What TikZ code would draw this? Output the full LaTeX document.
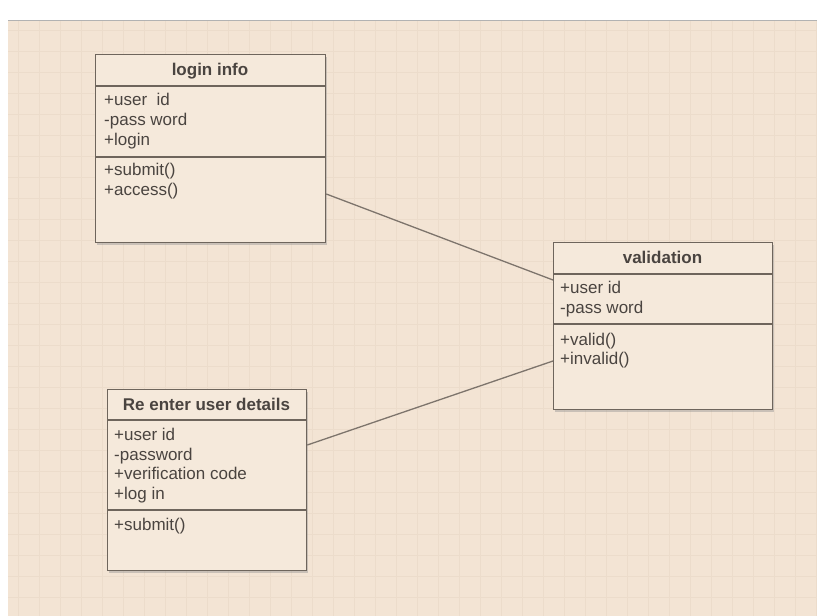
\documentclass[tikz,border=0pt]{standalone}
\usepackage{fontspec}
\setmainfont{Liberation Sans}
\usetikzlibrary{shadows}
\definecolor{paper}{HTML}{F3E4D4}
\definecolor{boxfill}{HTML}{F5E9DB}
\definecolor{boxline}{HTML}{6E655C}
\definecolor{gridminor}{HTML}{ECDCCB}
\definecolor{txt}{HTML}{4A4440}
\tikzset{
  umlbox/.style={draw=boxline, line width=1.3pt, fill=boxfill, anchor=north west, inner sep=0pt,
    drop shadow={shadow xshift=1.5pt, shadow yshift=-2pt, fill=black!45, opacity=0.4}},
  divider/.style={draw=boxline, line width=1.3pt},
  title/.style={font=\fontsize{17}{19}\selectfont\bfseries, text=txt, inner sep=0pt, anchor=base},
  member/.style={font=\fontsize{17}{19}\selectfont, text=txt, anchor=base west, inner sep=0pt},
  assoc/.style={draw=boxline!90, line width=1.3pt},
  gridline/.style={draw=gridminor, line width=0.8pt}
}
\begin{document}
\begin{tikzpicture}[x=1pt,y=-1pt]
\useasboundingbox (0,0) rectangle (817,616);
\fill[white] (0,0) rectangle (817,616);
\fill[paper] (8,20) rectangle (817,616);
\foreach \gx in {18,39,...,817} { \draw[gridline] (\gx,20) -- (\gx,616); }
\foreach \gy in {30,51,...,616} { \draw[gridline] (8,\gy) -- (817,\gy); }
\draw[black!30, line width=1pt] (8,20) -- (817,20);

% login info
\node[umlbox, minimum width=230pt, minimum height=188pt] (login) at (95,54) {};
\coordinate (l1) at (95,86); \coordinate (l1e) at (325,86);
\coordinate (l2) at (95,157); \coordinate (l2e) at (325,157);
\draw[divider] (l1) -- (l1e);
\draw[divider] (l2) -- (l2e);
\node[title] (logint) at (210,75) {login info};
\node[member] (la1) at (104,105) {+user\ \ id};
\node[member] (la2) at (104,125) {-pass word};
\node[member] (la3) at (104,145) {+login};
\node[member] (lm1) at (104,175) {+submit()};
\node[member] (lm2) at (104,195) {+access()};

% validation
\node[umlbox, minimum width=219pt, minimum height=167pt] (valid) at (553,242) {};
\coordinate (v1) at (553,274); \coordinate (v1e) at (772,274);
\coordinate (v2) at (553,324); \coordinate (v2e) at (772,324);
\draw[divider] (v1) -- (v1e);
\draw[divider] (v2) -- (v2e);
\node[title] (validt) at (662.5,263) {validation};
\node[member] (va1) at (560,293) {+user id};
\node[member] (va2) at (560,313) {-pass word};
\node[member] (vm1) at (560,345) {+valid()};
\node[member] (vm2) at (560,364) {+invalid()};

% re enter
\node[umlbox, minimum width=199pt, minimum height=181pt] (reent) at (107,389) {};
\coordinate (r1) at (107,420); \coordinate (r1e) at (306,420);
\coordinate (r2) at (107,510); \coordinate (r2e) at (306,510);
\draw[divider] (r1) -- (r1e);
\draw[divider] (r2) -- (r2e);
\node[title] (reentt) at (206.5,410) {Re enter user details};
\node[member] (ra1) at (114,440) {+user id};
\node[member] (ra2) at (114,460) {-password};
\node[member] (ra3) at (114,479) {+verification code};
\node[member] (ra4) at (114,499) {+log in};
\node[member] (rm1) at (114,530) {+submit()};

% associations
\coordinate (a1s) at (login.east |- 0,194);
\coordinate (a1e) at (valid.west |- 0,280);
\coordinate (a2s) at (reent.east |- 0,445);
\coordinate (a2e) at (valid.west |- 0,361);
\draw[assoc] (a1s) -- (a1e);
\draw[assoc] (a2s) -- (a2e);
\end{tikzpicture}
\end{document}
